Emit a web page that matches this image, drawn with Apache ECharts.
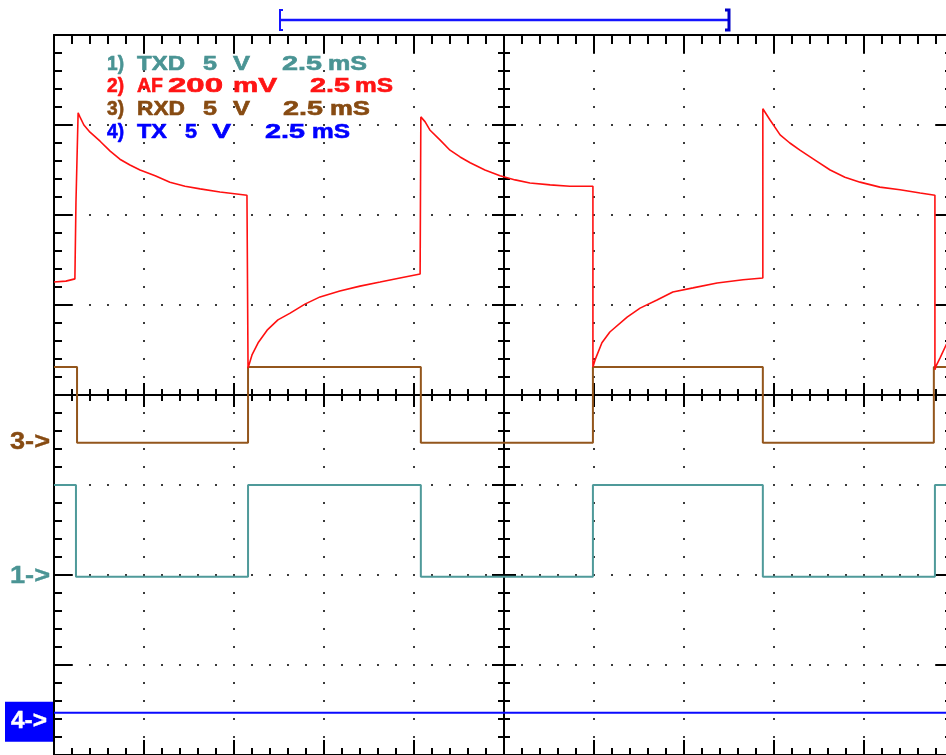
<!DOCTYPE html>
<html>
<head>
<meta charset="utf-8">
<script src="https://cdn.jsdelivr.net/npm/echarts@6/dist/echarts.min.js"></script>
<style>
  html, body { margin: 0; padding: 0; background: #fff; }
  #scope { width: 946px; height: 755px; }
</style>
</head>
<body>
<div id="scope"></div>
<script>
// ---- Time base: 2.5 ms/div, trigger at the centre of the screen (ms) ----
const timeRange = [-12.5, 12.5];
const timePerDiv = 2.5;
const timeLabel = ['2.5', 'mS'];
const divRange = [-4, 4];

// ---- Channel settings ----
const channelNames   = ['TXD', 'AF', 'RXD', 'TX'];
const channelScales  = [5, 200, 5, 5];          // per division
const channelUnits   = ['V', 'mV', 'V', 'V'];
const channelOffsets = [-2.02, 0, -0.53, -3.63]; // divisions from centre
const channelColors  = ['#4f9a9a', '#ff1010', '#93561c', '#0a0aff'];
const channelTextColors = ['#4a9494', '#ff1414', '#874b12', '#0000ff'];

// ---- Span marker above the screen (ms) ----
const spanMarker = [-6.25, 6.25];

// ---- Channel 1: TXD (V), level starting at each time ----
const txdTimes  = [-12.5, -11.89, -7.11, -2.31, 2.47, 7.19, 11.97, 12.5];
const txdLevels = [5.1, 0, 5.1, 0, 5.1, 0, 5.1, 5.1];

// ---- Channel 3: RXD (V) ----
const rxdTimes  = [-12.5, -11.86, -7.11, -2.31, 2.47, 7.19, 11.94, 12.5];
const rxdLevels = [4.2, 0, 4.2, 0, 4.2, 0, 4.2, 4.2];

// ---- Channel 4: TX (V) ----
const txTimes  = [-12.5, 12.5];
const txLevels = [0.5, 0.5];

// ---- Channel 2: AF (mV) ----
const afTimes = [
  -12.5, -12.17, -11.92, -11.89, -11.89, -11.86, -11.83, -11.78, -11.67, -11.5,
  -11.22, -10.94, -10.67, -10.39, -10.11, -9.69, -9.28, -8.86, -8.44, -7.89,
  -7.14, -7.11, -7.11, -7.08, -7.0, -6.83, -6.58, -6.28, -5.94, -5.53,
  -5.11, -4.56, -4.0, -3.44, -2.89, -2.33, -2.31, -2.28, -2.19, -2.06,
  -1.78, -1.5, -1.22, -0.94, -0.53, -0.11, 0.31, 0.72, 1.28, 1.83,
  2.47, 2.47, 2.53, 2.72, 2.94, 3.42, 3.78, 4.25, 4.69, 5.25,
  5.92, 6.64, 7.19, 7.19, 7.39, 7.67, 7.94, 8.22, 8.64, 9.06,
  9.47, 9.89, 10.44, 11.0, 11.56, 11.97, 11.97, 12.0, 12.11, 12.28, 12.5
];
const afValues = [
  251, 253, 258, 258, 427, 427, 627, 618, 600, 584,
  564, 542, 524, 511, 500, 487, 473, 464, 458, 451,
  444, 444, 60, 64, 89, 116, 144, 167, 182, 202,
  218, 231, 242, 251, 260, 269, 618, 618, 607, 589,
  567, 544, 529, 516, 500, 487, 478, 471, 467, 464,
  464, 62, 78, 116, 140, 173, 193, 211, 229, 238,
  249, 256, 260, 636, 611, 578, 560, 544, 522, 500,
  484, 473, 462, 456, 449, 444, 56, 64, 82, 111, 138
];

// ---- helpers ----
function toDiv(v, ch) { return v / channelScales[ch] + channelOffsets[ch]; }
function trace(times, values, ch) { return times.map((t, i) => [t, toDiv(values[i], ch)]); }

const INK = '#000';
const dotted = { color: '#3a3a3a', width: 2, type: [2, 16], dashOffset: 1 };

function timeAxis(extra) {
  return Object.assign({
    type: 'value', min: timeRange[0], max: timeRange[1], interval: timePerDiv,
    axisLabel: { show: false }, splitLine: { show: false }, minorSplitLine: { show: false }
  }, extra);
}
function divAxis(extra) {
  return Object.assign({
    type: 'value', min: divRange[0], max: divRange[1], interval: 1,
    axisLabel: { show: false }, splitLine: { show: false }, minorSplitLine: { show: false }
  }, extra);
}
function ticks(inside, major, minor) {
  return {
    axisTick: { show: true, inside: inside, length: major, lineStyle: { color: INK, width: 2 } },
    minorTick: { show: true, splitNumber: 5, length: minor, lineStyle: { color: INK, width: 2 } }
  };
}
function line(onZero, index) {
  return { show: true, onZero: onZero, onZeroAxisIndex: index, lineStyle: { color: INK, width: 2 } };
}

const chart = echarts.init(document.getElementById('scope'), null, { renderer: 'canvas' });

function stepSeries(name, data, ch, width) {
  return {
    name: name, type: 'line', data: data, step: 'end', showSymbol: false, symbol: 'none',
    xAxisIndex: 0, yAxisIndex: 0, silent: true, z: 5,
    lineStyle: { color: channelColors[ch], width: width }
  };
}

chart.setOption({
  animation: false,
  backgroundColor: '#fff',
  grid: { left: 54, top: 35, width: 900, height: 720, containLabel: false, outerBoundsMode: 'none', show: false },
  xAxis: [
    // bottom border
    timeAxis(Object.assign({ position: 'bottom', axisLine: line(false), splitLine: { show: true, lineStyle: dotted } }, ticks(true, 15, 7))),
    // top border
    timeAxis(Object.assign({ position: 'top', axisLine: line(false) }, ticks(true, 18, 9))),
    // centre line, ticks upward
    timeAxis(Object.assign({ position: 'bottom', axisLine: line(true, 0) }, ticks(true, 12, 6))),
    // centre line, ticks downward
    timeAxis(Object.assign({ position: 'bottom', axisLine: line(true, 0) }, ticks(false, 12, 6)))
  ],
  yAxis: [
    divAxis(Object.assign({ position: 'left', axisLine: line(false), splitLine: { show: true, lineStyle: dotted } }, ticks(true, 18, 8))),
    divAxis(Object.assign({ position: 'right', axisLine: line(false) }, ticks(true, 18, 9))),
    divAxis(Object.assign({ position: 'left', axisLine: line(true, 0) }, ticks(true, 12, 6))),
    divAxis(Object.assign({ position: 'left', axisLine: line(true, 0) }, ticks(false, 12, 6)))
  ],
  series: [
    stepSeries('TX', trace(txTimes, txLevels, 3), 3, 2),
    stepSeries('TXD', trace(txdTimes, txdLevels, 0), 0, 2),
    stepSeries('RXD', trace(rxdTimes, rxdLevels, 2), 2, 2),
    {
      name: 'AF', type: 'line', data: trace(afTimes, afValues, 1), showSymbol: false, symbol: 'none',
      xAxisIndex: 0, yAxisIndex: 0, silent: true, z: 6,
      lineStyle: { color: channelColors[1], width: 1.6 }
    }
  ]
});

// ---- text overlays ----
const measureCtx = document.createElement('canvas').getContext('2d');
function fittedText(str, x, y, width, font, color, weight) {
  measureCtx.font = font;
  const w = measureCtx.measureText(str).width || 1;
  return {
    type: 'text', x: x, y: y, scaleX: width / w, z: 100, silent: true,
    style: { text: str, font: font, fill: color, stroke: color, lineWidth: weight || 0,
             align: 'left', verticalAlign: 'middle', textAlign: 'left', textVerticalAlign: 'middle' }
  };
}

const legendFont = 'bold 20px "Liberation Sans", Arial, sans-serif';
const legendRows = [
  { y: 64,  spans: [[107, 17], [137, 48], [203, 14], [233, 17], [282, 40], [328, 39]] },
  { y: 86,  spans: [[107, 17], [137, 26], [168, 55], [233, 44], [310, 40], [355, 38]] },
  { y: 109, spans: [[107, 17], [137, 48], [203, 14], [233, 17], [283, 40], [330, 40]] },
  { y: 132, spans: [[107, 17], [137, 30], [185, 12], [212, 19], [265, 40], [312, 38]] }
];

const graphics = [];
channelNames.forEach((name, ch) => {
  const tokens = [(ch + 1) + ')', name, String(channelScales[ch]), channelUnits[ch], timeLabel[0], timeLabel[1]];
  const row = legendRows[ch];
  tokens.forEach((tok, k) => {
    const s = row.spans[k];
    graphics.push(fittedText(tok, s[0], row.y, s[1], legendFont, channelTextColors[ch], 0.6));
  });
});

// channel ground markers at the left edge
const markerFont = 'bold 23px "Liberation Sans", Arial, sans-serif';
function levelPx(ch) { return chart.convertToPixel({ yAxisIndex: 0 }, channelOffsets[ch]); }
[2, 0].forEach(ch => {
  graphics.push(fittedText((ch + 1) + '->', 10, levelPx(ch), 40, markerFont, channelTextColors[ch], 0.4));
});
const txY = levelPx(3);
graphics.push({ type: 'rect', z: 99, silent: true, shape: { x: 5, y: txY - 20, width: 48, height: 40 }, style: { fill: '#0000ff' } });
graphics.push(fittedText('4->', 11, txY, 36, markerFont, '#ffffff', 0.4));

// span marker bracket above the screen
const sx0 = chart.convertToPixel({ xAxisIndex: 0 }, spanMarker[0]);
const sx1 = chart.convertToPixel({ xAxisIndex: 0 }, spanMarker[1]);
const bStyle = { stroke: '#1414ff', lineWidth: 2.5 };
graphics.push({ type: 'line', z: 100, silent: true, shape: { x1: sx0, y1: 20, x2: sx1, y2: 20 }, style: bStyle });
graphics.push({ type: 'polyline', z: 100, silent: true, shape: { points: [[sx0 + 4, 10], [sx0 + 1, 10], [sx0 + 1, 30], [sx0 + 4, 30]] }, style: { stroke: '#1414ff', lineWidth: 2, fill: null } });
graphics.push({ type: 'polyline', z: 100, silent: true, shape: { points: [[sx1 - 4, 10], [sx1, 10], [sx1, 30], [sx1 - 4, 30]] }, style: { stroke: '#0000c8', lineWidth: 3, fill: null } });

chart.setOption({ graphic: graphics });
</script>
</body>
</html>
